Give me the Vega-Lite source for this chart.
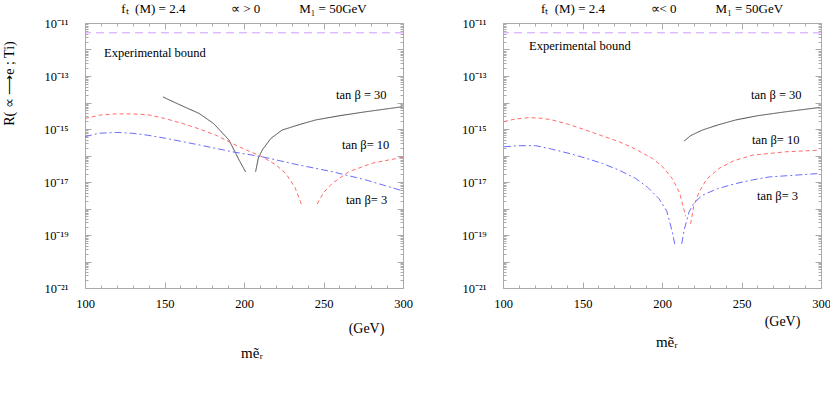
{
  "$schema": "https://vega.github.io/schema/vega-lite/v6.json",
  "autosize": {"type": "pad"},
  "padding": {"left": 1, "top": 2, "right": 0, "bottom": 0},
  "background": "white",
  "config": {
    "font": "Liberation Serif",
    "view": {"stroke": "#aaaaaa", "strokeWidth": 1},
    "title": {"font": "Liberation Serif", "fontSize": 13, "fontWeight": "normal", "color": "black"},
    "axis": {
      "domain": false, "grid": false, "labelFlush": false, "labelOverlap": false, "labelFont": "Liberation Serif", "labelFontSize": 12.5, "labelColor": "black",
      "titleFont": "Liberation Serif", "titleFontWeight": "normal", "titleColor": "black", "tickColor": "#aaaaaa", "tickWidth": 1
    }
  },
  "bounds": "flush",
  "spacing": 100,
  "datasets": {
    "leftCurves": [
      {"series":"30","seg":"a","m":149,"lg":-13.79},{"series":"30","seg":"a","m":161.2,"lg":-14.13},{"series":"30","seg":"a","m":171.7,"lg":-14.41},{"series":"30","seg":"a","m":181,"lg":-14.8},{"series":"30","seg":"a","m":190.6,"lg":-15.42},{"series":"30","seg":"a","m":196.9,"lg":-16.17},{"series":"30","seg":"a","m":201,"lg":-16.62},
      {"series":"30","seg":"b","m":207.3,"lg":-16.61},{"series":"30","seg":"b","m":209,"lg":-16.1},{"series":"30","seg":"b","m":211.5,"lg":-15.79},{"series":"30","seg":"b","m":217,"lg":-15.35},{"series":"30","seg":"b","m":224,"lg":-15.04},{"series":"30","seg":"b","m":235,"lg":-14.83},{"series":"30","seg":"b","m":245,"lg":-14.66},{"series":"30","seg":"b","m":260,"lg":-14.5},{"series":"30","seg":"b","m":276.5,"lg":-14.35},{"series":"30","seg":"b","m":299.6,"lg":-14.16},
      {"series":"10","seg":"a","m":100,"lg":-14.6},{"series":"10","seg":"a","m":110,"lg":-14.47},{"series":"10","seg":"a","m":119.3,"lg":-14.43},{"series":"10","seg":"a","m":130,"lg":-14.43},{"series":"10","seg":"a","m":140.3,"lg":-14.47},{"series":"10","seg":"a","m":150,"lg":-14.6},{"series":"10","seg":"a","m":161.2,"lg":-14.79},{"series":"10","seg":"a","m":172,"lg":-15.0},{"series":"10","seg":"a","m":182.2,"lg":-15.23},{"series":"10","seg":"a","m":196.9,"lg":-15.67},{"series":"10","seg":"a","m":211.5,"lg":-16.05},{"series":"10","seg":"a","m":220,"lg":-16.35},{"series":"10","seg":"a","m":226.2,"lg":-16.67},{"series":"10","seg":"a","m":232,"lg":-17.2},{"series":"10","seg":"a","m":236.7,"lg":-17.93},
      {"series":"10","seg":"b","m":246.1,"lg":-17.83},{"series":"10","seg":"b","m":250,"lg":-17.4},{"series":"10","seg":"b","m":255.5,"lg":-17.05},{"series":"10","seg":"b","m":266,"lg":-16.61},{"series":"10","seg":"b","m":280.7,"lg":-16.29},{"series":"10","seg":"b","m":299.6,"lg":-16.07},
      {"series":"3","seg":"a","m":100,"lg":-15.29},{"series":"3","seg":"a","m":108.8,"lg":-15.16},{"series":"3","seg":"a","m":120,"lg":-15.13},{"series":"3","seg":"a","m":129.7,"lg":-15.16},{"series":"3","seg":"a","m":140,"lg":-15.24},{"series":"3","seg":"a","m":150.7,"lg":-15.35},{"series":"3","seg":"a","m":171.7,"lg":-15.6},{"series":"3","seg":"a","m":192.6,"lg":-15.86},{"series":"3","seg":"a","m":211.5,"lg":-16.05},{"series":"3","seg":"a","m":234.6,"lg":-16.36},{"series":"3","seg":"a","m":255.5,"lg":-16.61},{"series":"3","seg":"a","m":276.5,"lg":-16.92},{"series":"3","seg":"a","m":299.6,"lg":-17.33}
    ],
    "rightCurves": [
      {"series":"30","seg":"a","m":213.8,"lg":-15.46},{"series":"30","seg":"a","m":218,"lg":-15.25},{"series":"30","seg":"a","m":225.4,"lg":-15.04},{"series":"30","seg":"a","m":235,"lg":-14.85},{"series":"30","seg":"a","m":246.3,"lg":-14.66},{"series":"30","seg":"a","m":260,"lg":-14.5},{"series":"30","seg":"a","m":277.8,"lg":-14.35},{"series":"30","seg":"a","m":298.7,"lg":-14.19},
      {"series":"10","seg":"a","m":100.6,"lg":-14.72},{"series":"10","seg":"a","m":108,"lg":-14.62},{"series":"10","seg":"a","m":116.4,"lg":-14.57},{"series":"10","seg":"a","m":125,"lg":-14.6},{"series":"10","seg":"a","m":131,"lg":-14.66},{"series":"10","seg":"a","m":141,"lg":-14.82},{"series":"10","seg":"a","m":152,"lg":-15.04},{"series":"10","seg":"a","m":162,"lg":-15.25},{"series":"10","seg":"a","m":173,"lg":-15.48},{"series":"10","seg":"a","m":183,"lg":-15.75},{"series":"10","seg":"a","m":193.9,"lg":-16.11},{"series":"10","seg":"a","m":200,"lg":-16.4},{"series":"10","seg":"a","m":206.5,"lg":-16.87},{"series":"10","seg":"a","m":211,"lg":-17.4},{"series":"10","seg":"a","m":214.9,"lg":-18.3},
      {"series":"10","seg":"b","m":218,"lg":-18.58},{"series":"10","seg":"b","m":220,"lg":-17.9},{"series":"10","seg":"b","m":223.3,"lg":-17.38},{"series":"10","seg":"b","m":228,"lg":-16.9},{"series":"10","seg":"b","m":235.8,"lg":-16.49},{"series":"10","seg":"b","m":245,"lg":-16.2},{"series":"10","seg":"b","m":256.8,"lg":-15.99},{"series":"10","seg":"b","m":277.8,"lg":-15.86},{"series":"10","seg":"b","m":298.7,"lg":-15.8},
      {"series":"3","seg":"a","m":100.6,"lg":-15.67},{"series":"3","seg":"a","m":110,"lg":-15.63},{"series":"3","seg":"a","m":120.6,"lg":-15.63},{"series":"3","seg":"a","m":130,"lg":-15.75},{"series":"3","seg":"a","m":141.5,"lg":-15.92},{"series":"3","seg":"a","m":152,"lg":-16.1},{"series":"3","seg":"a","m":162.5,"lg":-16.3},{"series":"3","seg":"a","m":173,"lg":-16.55},{"series":"3","seg":"a","m":183.5,"lg":-16.87},{"series":"3","seg":"a","m":191,"lg":-17.2},{"series":"3","seg":"a","m":198.1,"lg":-17.63},{"series":"3","seg":"a","m":203,"lg":-18.1},{"series":"3","seg":"a","m":206.5,"lg":-18.89},{"series":"3","seg":"a","m":208.2,"lg":-19.4},
      {"series":"3","seg":"b","m":212.4,"lg":-19.33},{"series":"3","seg":"b","m":214,"lg":-18.8},{"series":"3","seg":"b","m":217,"lg":-18.13},{"series":"3","seg":"b","m":220,"lg":-17.8},{"series":"3","seg":"b","m":225.4,"lg":-17.5},{"series":"3","seg":"b","m":235,"lg":-17.25},{"series":"3","seg":"b","m":246.3,"lg":-17.06},{"series":"3","seg":"b","m":257,"lg":-16.92},{"series":"3","seg":"b","m":267.3,"lg":-16.81},{"series":"3","seg":"b","m":298.7,"lg":-16.68}
    ],
    "leftLabels": [
      {"label":"Experimental bound","m":112,"lg":-12.13},
      {"label":"tan β = 30","m":257.9,"lg":-13.72},
      {"label":"tan β= 10","m":261.6,"lg":-15.6},
      {"label":"tan β= 3","m":264.2,"lg":-17.68}
    ],
    "rightLabels": [
      {"label":"Experimental bound","m":116.4,"lg":-11.87},
      {"label":"tan β = 30","m":256,"lg":-13.73},
      {"label":"tan β= 10","m":256.6,"lg":-15.43},
      {"label":"tan β= 3","m":259.7,"lg":-17.52}
    ],
    "leftMass": [{"label":"mẽᵣ","m":205,"lg":-23.45}],
    "rightMass": [{"label":"mẽᵣ","m":203,"lg":-23.05}],
    "bound": [{"lg":-11.37}]
  },
  "hconcat": [
    {
      "width": 318, "height": 265,
      "title": {"text": "fₜ\u2002(M) = 2.4\u2003\u2003\u2003\u2002∝ > 0\u2003\u2003\u2003M₁ = 50GeV", "offset": 1},
      "resolve": {"axis": {"x": "independent", "y": "independent"}},
      "layer": [
        {
          "data": {"name": "leftCurves"},
          "mark": {"type": "line", "strokeWidth": 1},
          "encoding": {
            "x": {"field": "m", "type": "quantitative", "scale": {"domain": [100, 300], "nice": false, "zero": false},
              "axis": {"orient": "bottom", "values": [100,110,120,130,140,150,160,170,180,190,200,210,220,230,240,250,260,270,280,290,300],
                "labelExpr": "datum.value % 50 == 0 ? datum.label : ''",
                "tickSize": {"condition": {"test": "datum.value % 50 == 0", "value": -6}, "value": -3},
                "labelPadding": 15, "title": "(GeV)", "titleFontSize": 14, "titleX": 281, "titleY": 40, "titleAlign": "center", "titleBaseline": "middle"}},
            "y": {"field": "lg", "type": "quantitative", "scale": {"domain": [-21, -11], "nice": false, "zero": false},
              "axis": {"orient": "left",
                "values": [-21,-20.69897,-20.52288,-20.39794,-20.30103,-20.22185,-20.1549,-20.09691,-20.04576,-20,-19.69897,-19.52288,-19.39794,-19.30103,-19.22185,-19.1549,-19.09691,-19.04576,-19,-18.69897,-18.52288,-18.39794,-18.30103,-18.22185,-18.1549,-18.09691,-18.04576,-18,-17.69897,-17.52288,-17.39794,-17.30103,-17.22185,-17.1549,-17.09691,-17.04576,-17,-16.69897,-16.52288,-16.39794,-16.30103,-16.22185,-16.1549,-16.09691,-16.04576,-16,-15.69897,-15.52288,-15.39794,-15.30103,-15.22185,-15.1549,-15.09691,-15.04576,-15,-14.69897,-14.52288,-14.39794,-14.30103,-14.22185,-14.1549,-14.09691,-14.04576,-14,-13.69897,-13.52288,-13.39794,-13.30103,-13.22185,-13.1549,-13.09691,-13.04576,-13,-12.69897,-12.52288,-12.39794,-12.30103,-12.22185,-12.1549,-12.09691,-12.04576,-12,-11.69897,-11.52288,-11.39794,-11.30103,-11.22185,-11.1549,-11.09691,-11.04576,-11],
                "labelExpr": "datum.value == -11 ? '10⁻¹¹' : datum.value == -13 ? '10⁻¹³' : datum.value == -15 ? '10⁻¹⁵' : datum.value == -17 ? '10⁻¹⁷' : datum.value == -19 ? '10⁻¹⁹' : datum.value == -21 ? '10⁻²¹' : ''",
                "tickSize": {"condition": {"test": "datum.value == round(datum.value)", "value": -6}, "value": -3},
                "labelPadding": 23, "title": "R( ∝ ⟶e ; Ti)", "titleFontSize": 14, "titleAngle": -90, "titleX": -76, "titleY": 60, "titleAlign": "center", "titleBaseline": "middle"}},
            "color": {"field": "series", "type": "nominal", "scale": {"domain": ["30","10","3"], "range": ["#4a4a4a","#ff6b6b","#6b6bff"]}, "legend": null},
            "strokeDash": {"field": "series", "type": "nominal", "scale": {"domain": ["30","10","3"], "range": [[1,0],[4,3],[7,3,2,3]]}, "legend": null},
            "detail": {"field": "seg", "type": "nominal"}
          }
        },
        {
          "data": {"name": "bound"},
          "mark": {"type": "rule", "color": "#d49cff", "strokeDash": [8,5], "strokeWidth": 1},
          "encoding": {"y": {"field": "lg", "type": "quantitative", "axis": null}}
        },
        {
          "data": {"name": "leftMass"},
          "mark": {"type": "text", "fontSize": 15, "align": "center", "baseline": "middle", "color": "black"},
          "encoding": {
            "x": {"field": "m", "type": "quantitative", "axis": null},
            "y": {"field": "lg", "type": "quantitative", "axis": null},
            "text": {"field": "label"}
          }
        },
        {
          "data": {"name": "leftLabels"},
          "mark": {"type": "text", "fontSize": 12.5, "align": "left", "baseline": "middle", "color": "black"},
          "encoding": {
            "x": {"field": "m", "type": "quantitative",
              "axis": {"orient": "top", "values": [100,110,120,130,140,150,160,170,180,190,200,210,220,230,240,250,260,270,280,290,300], "labels": false, "title": null,
                "tickSize": {"condition": {"test": "datum.value % 50 == 0", "value": -6}, "value": -3}}},
            "y": {"field": "lg", "type": "quantitative",
              "axis": {"orient": "right", "labels": false, "title": null,
                "values": [-21,-20.69897,-20.52288,-20.39794,-20.30103,-20.22185,-20.1549,-20.09691,-20.04576,-20,-19.69897,-19.52288,-19.39794,-19.30103,-19.22185,-19.1549,-19.09691,-19.04576,-19,-18.69897,-18.52288,-18.39794,-18.30103,-18.22185,-18.1549,-18.09691,-18.04576,-18,-17.69897,-17.52288,-17.39794,-17.30103,-17.22185,-17.1549,-17.09691,-17.04576,-17,-16.69897,-16.52288,-16.39794,-16.30103,-16.22185,-16.1549,-16.09691,-16.04576,-16,-15.69897,-15.52288,-15.39794,-15.30103,-15.22185,-15.1549,-15.09691,-15.04576,-15,-14.69897,-14.52288,-14.39794,-14.30103,-14.22185,-14.1549,-14.09691,-14.04576,-14,-13.69897,-13.52288,-13.39794,-13.30103,-13.22185,-13.1549,-13.09691,-13.04576,-13,-12.69897,-12.52288,-12.39794,-12.30103,-12.22185,-12.1549,-12.09691,-12.04576,-12,-11.69897,-11.52288,-11.39794,-11.30103,-11.22185,-11.1549,-11.09691,-11.04576,-11],
                "tickSize": {"condition": {"test": "datum.value == round(datum.value)", "value": -6}, "value": -3}}},
            "text": {"field": "label"}
          }
        }
      ]
    },
    {
      "width": 318, "height": 265,
      "title": {"text": "fₜ\u2002(M) = 2.4\u2003\u2003\u2003\u2002∝< 0\u2003\u2003\u2003M₁ = 50GeV", "offset": 1},
      "resolve": {"axis": {"x": "independent", "y": "independent"}},
      "layer": [
        {
          "data": {"name": "rightCurves"},
          "mark": {"type": "line", "strokeWidth": 1},
          "encoding": {
            "x": {"field": "m", "type": "quantitative", "scale": {"domain": [100, 300], "nice": false, "zero": false},
              "axis": {"orient": "bottom", "values": [100,110,120,130,140,150,160,170,180,190,200,210,220,230,240,250,260,270,280,290,300],
                "labelExpr": "datum.value % 50 == 0 ? datum.label : ''",
                "tickSize": {"condition": {"test": "datum.value % 50 == 0", "value": -6}, "value": -3},
                "labelPadding": 15, "title": "(GeV)", "titleFontSize": 14, "titleX": 279, "titleY": 33, "titleAlign": "center", "titleBaseline": "middle"}},
            "y": {"field": "lg", "type": "quantitative", "scale": {"domain": [-21, -11], "nice": false, "zero": false},
              "axis": {"orient": "left",
                "values": [-21,-20.69897,-20.52288,-20.39794,-20.30103,-20.22185,-20.1549,-20.09691,-20.04576,-20,-19.69897,-19.52288,-19.39794,-19.30103,-19.22185,-19.1549,-19.09691,-19.04576,-19,-18.69897,-18.52288,-18.39794,-18.30103,-18.22185,-18.1549,-18.09691,-18.04576,-18,-17.69897,-17.52288,-17.39794,-17.30103,-17.22185,-17.1549,-17.09691,-17.04576,-17,-16.69897,-16.52288,-16.39794,-16.30103,-16.22185,-16.1549,-16.09691,-16.04576,-16,-15.69897,-15.52288,-15.39794,-15.30103,-15.22185,-15.1549,-15.09691,-15.04576,-15,-14.69897,-14.52288,-14.39794,-14.30103,-14.22185,-14.1549,-14.09691,-14.04576,-14,-13.69897,-13.52288,-13.39794,-13.30103,-13.22185,-13.1549,-13.09691,-13.04576,-13,-12.69897,-12.52288,-12.39794,-12.30103,-12.22185,-12.1549,-12.09691,-12.04576,-12,-11.69897,-11.52288,-11.39794,-11.30103,-11.22185,-11.1549,-11.09691,-11.04576,-11],
                "labelExpr": "datum.value == -11 ? '10⁻¹¹' : datum.value == -13 ? '10⁻¹³' : datum.value == -15 ? '10⁻¹⁵' : datum.value == -17 ? '10⁻¹⁷' : datum.value == -19 ? '10⁻¹⁹' : datum.value == -21 ? '10⁻²¹' : ''",
                "tickSize": {"condition": {"test": "datum.value == round(datum.value)", "value": -6}, "value": -3},
                "labelPadding": 23, "title": null}},
            "color": {"field": "series", "type": "nominal", "scale": {"domain": ["30","10","3"], "range": ["#4a4a4a","#ff6b6b","#6b6bff"]}, "legend": null},
            "strokeDash": {"field": "series", "type": "nominal", "scale": {"domain": ["30","10","3"], "range": [[1,0],[4,3],[7,3,2,3]]}, "legend": null},
            "detail": {"field": "seg", "type": "nominal"}
          }
        },
        {
          "data": {"name": "bound"},
          "mark": {"type": "rule", "color": "#d49cff", "strokeDash": [8,5], "strokeWidth": 1},
          "encoding": {"y": {"field": "lg", "type": "quantitative", "axis": null}}
        },
        {
          "data": {"name": "rightMass"},
          "mark": {"type": "text", "fontSize": 15, "align": "center", "baseline": "middle", "color": "black"},
          "encoding": {
            "x": {"field": "m", "type": "quantitative", "axis": null},
            "y": {"field": "lg", "type": "quantitative", "axis": null},
            "text": {"field": "label"}
          }
        },
        {
          "data": {"name": "rightLabels"},
          "mark": {"type": "text", "fontSize": 12.5, "align": "left", "baseline": "middle", "color": "black"},
          "encoding": {
            "x": {"field": "m", "type": "quantitative",
              "axis": {"orient": "top", "values": [100,110,120,130,140,150,160,170,180,190,200,210,220,230,240,250,260,270,280,290,300], "labels": false, "title": null,
                "tickSize": {"condition": {"test": "datum.value % 50 == 0", "value": -6}, "value": -3}}},
            "y": {"field": "lg", "type": "quantitative",
              "axis": {"orient": "right", "labels": false, "title": null,
                "values": [-21,-20.69897,-20.52288,-20.39794,-20.30103,-20.22185,-20.1549,-20.09691,-20.04576,-20,-19.69897,-19.52288,-19.39794,-19.30103,-19.22185,-19.1549,-19.09691,-19.04576,-19,-18.69897,-18.52288,-18.39794,-18.30103,-18.22185,-18.1549,-18.09691,-18.04576,-18,-17.69897,-17.52288,-17.39794,-17.30103,-17.22185,-17.1549,-17.09691,-17.04576,-17,-16.69897,-16.52288,-16.39794,-16.30103,-16.22185,-16.1549,-16.09691,-16.04576,-16,-15.69897,-15.52288,-15.39794,-15.30103,-15.22185,-15.1549,-15.09691,-15.04576,-15,-14.69897,-14.52288,-14.39794,-14.30103,-14.22185,-14.1549,-14.09691,-14.04576,-14,-13.69897,-13.52288,-13.39794,-13.30103,-13.22185,-13.1549,-13.09691,-13.04576,-13,-12.69897,-12.52288,-12.39794,-12.30103,-12.22185,-12.1549,-12.09691,-12.04576,-12,-11.69897,-11.52288,-11.39794,-11.30103,-11.22185,-11.1549,-11.09691,-11.04576,-11],
                "tickSize": {"condition": {"test": "datum.value == round(datum.value)", "value": -6}, "value": -3}}},
            "text": {"field": "label"}
          }
        }
      ]
    }
  ]
}
